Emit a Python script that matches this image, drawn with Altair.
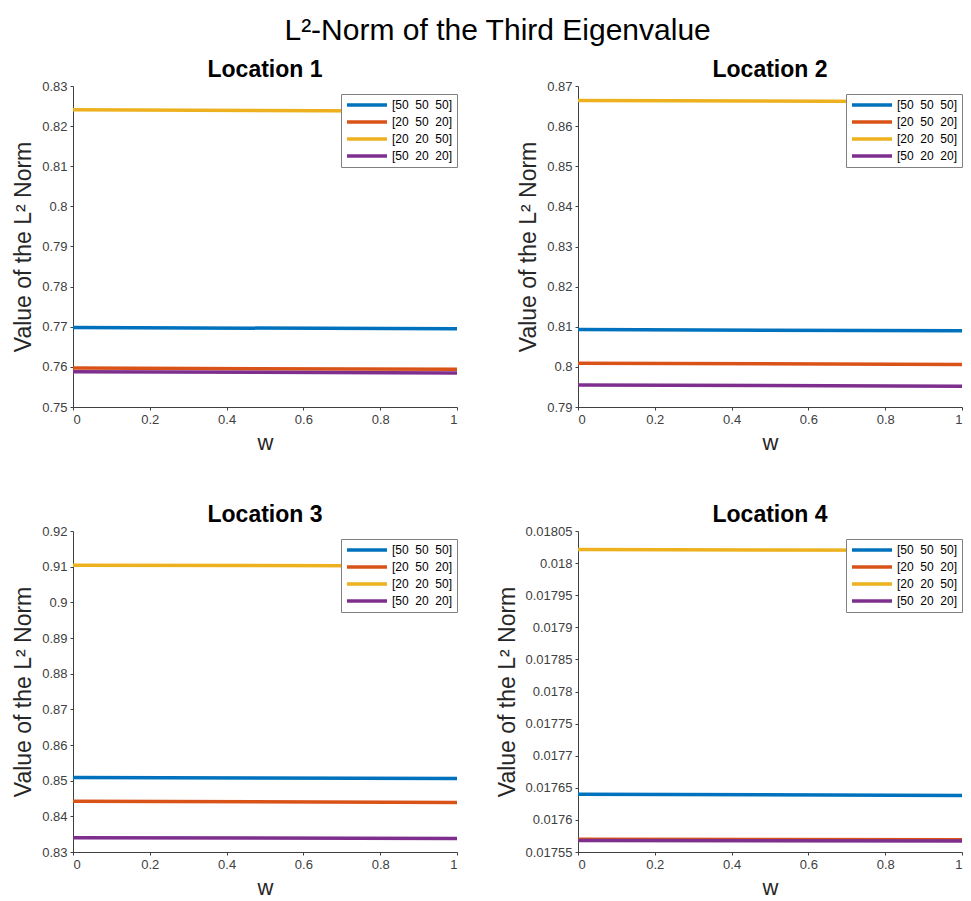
import altair as alt
import pandas as pd

NB = "\u00a0"
series_labels = [f"[50{NB}{NB}50{NB}{NB}50]", f"[20{NB}{NB}50{NB}{NB}20]",
                 f"[20{NB}{NB}20{NB}{NB}50]", f"[50{NB}{NB}20{NB}{NB}20]"]
series_colors = ["#0072BD", "#D95319", "#EDB120", "#7E2F8E"]

w_values = [0.0, 1.0]

# values at w=0 and w=1, per series (order as series_labels)
loc1 = [[0.7698, 0.7695], [0.7597, 0.7594], [0.8241, 0.8237], [0.7588, 0.7585]]
loc2 = [[0.8093, 0.8090], [0.8009, 0.8006], [0.8664, 0.8661], [0.7955, 0.7952]]
loc3 = [[0.8509, 0.8506], [0.8442, 0.8439], [0.9104, 0.9102], [0.8340, 0.8338]]
loc4 = [[0.017640, 0.017638], [0.017570, 0.017569], [0.018021, 0.018020], [0.017568, 0.017567]]

titles = ["Location 1", "Location 2", "Location 3", "Location 4"]
y_domains = [[0.75, 0.83], [0.79, 0.87], [0.83, 0.92], [0.01755, 0.01805]]
y_ticks = [
    [0.75, 0.76, 0.77, 0.78, 0.79, 0.80, 0.81, 0.82, 0.83],
    [0.79, 0.80, 0.81, 0.82, 0.83, 0.84, 0.85, 0.86, 0.87],
    [0.83, 0.84, 0.85, 0.86, 0.87, 0.88, 0.89, 0.90, 0.91, 0.92],
    [0.01755, 0.0176, 0.01765, 0.0177, 0.01775, 0.0178, 0.01785, 0.0179,
     0.01795, 0.018, 0.01805],
]
y_formats = [".2~f", ".2~f", ".2~f", ".5~f"]
x_ticks = [0, 0.2, 0.4, 0.6, 0.8, 1]

FONT = "Liberation Sans"
PW, PH = 384, 321


def panel(title, values, ydom, yt, fmt):
    rows = []
    for lab, vals in zip(series_labels, values):
        for w, v in zip(w_values, vals):
            rows.append({"w": w, "value": v, "series": lab})
    df = pd.DataFrame(rows)
    return alt.Chart(df).mark_line(strokeWidth=3.5, clip=True).encode(
        x=alt.X("w:Q", scale=alt.Scale(domain=[0, 1], nice=False),
                axis=alt.Axis(values=x_ticks, format=".1~f", title="w")),
        y=alt.Y("value:Q", scale=alt.Scale(domain=ydom, nice=False, zero=False),
                axis=alt.Axis(values=yt, format=fmt, title="Value of the L² Norm",
                              titlePadding=6)),
        color=alt.Color("series:N", sort=series_labels,
                        scale=alt.Scale(domain=series_labels, range=series_colors),
                        legend=alt.Legend(orient="none", legendX=268, legendY=8,
                                          title=None, symbolType="M-4,0L4,0",
                                          symbolSize=100, symbolStrokeWidth=3.5,
                                          symbolOffset=15,
                                          labelFontSize=12, labelFont=FONT,
                                          labelColor="#000000", rowPadding=3,
                                          padding=4, strokeColor="#808080",
                                          fillColor="#ffffff", labelOffset=18)),
    ).properties(width=PW, height=PH,
                 title=alt.TitleParams(title, fontSize=23, fontWeight="bold",
                                       font=FONT, color="#000000", offset=-2))


panels = [panel(t, v, d, yt, f) for t, v, d, yt, f in
          zip(titles, [loc1, loc2, loc3, loc4], y_domains, y_ticks, y_formats)]

chart = alt.concat(*panels, columns=2, spacing={"row": 51, "column": 38}).resolve_scale(
    color="independent").resolve_legend(color="independent").properties(
    title=alt.TitleParams("L²-Norm of the Third Eigenvalue", fontSize=30,
                          fontWeight="normal", font=FONT, color="#000000",
                          anchor="middle", offset=13, dx=10),
    padding={"left": 12, "top": 16, "right": 4, "bottom": 2},
).configure_view(stroke=None).configure_axis(
    grid=False, labelFont=FONT, titleFont=FONT, labelFontSize=13,
    labelColor="#404040", titleFontSize=23, titleFontWeight="normal",
    titleColor="#262626", domainColor="#404040", tickColor="#404040",
    tickSize=3, labelPadding=3, titlePadding=8,
).configure_axisX(titleFontSize=22, titlePadding=6)

chart.save("out.html", embed_options={"renderer": "svg", "actions": False})
